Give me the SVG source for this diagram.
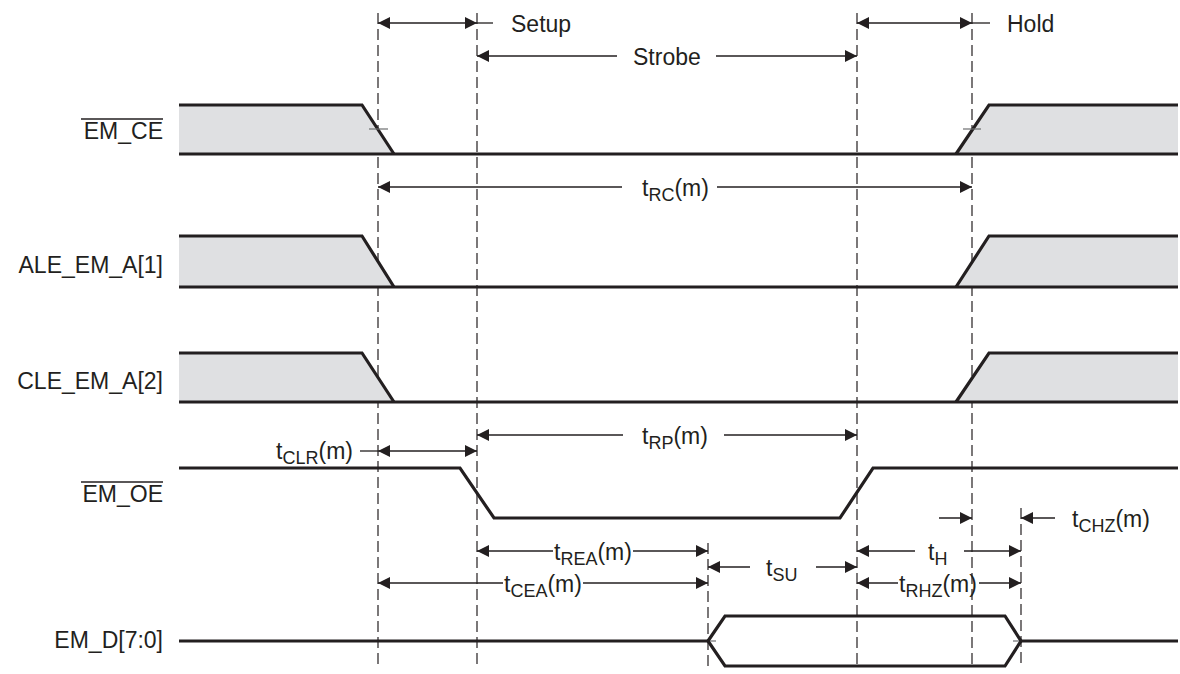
<svg xmlns="http://www.w3.org/2000/svg" width="1180" height="674" viewBox="0 0 1180 674">
<style>
.wave{fill:none;stroke:#231f20;stroke-width:3.2;stroke-linejoin:miter;stroke-linecap:butt}
.fill{fill:#dfe0e2;stroke:none}
.dash{stroke:#231f20;stroke-width:1.2;stroke-dasharray:11 5;fill:none}
.dim{stroke:#231f20;stroke-width:1.3;fill:none}
.tick{stroke:#6d6e71;stroke-width:1.2}
.lbl{font-family:"Liberation Sans",Arial,sans-serif;font-size:23px;fill:#231f20}
.sub{font-size:18px}
.ov{stroke:#231f20;stroke-width:1.6}
</style>
<defs>
<marker id="ah" markerUnits="userSpaceOnUse" markerWidth="12" markerHeight="12" refX="12" refY="6" orient="auto-start-reverse" viewBox="0 0 12 12">
<path d="M0,0 L12,6 L0,12 Z" fill="#231f20"/>
</marker>
</defs>
<rect width="1180" height="674" fill="#ffffff"/>

<g id="reference-lines">
<line class="dash" x1="378" y1="13" x2="378" y2="668"/>
<line class="dash" x1="477" y1="13" x2="477" y2="668"/>
<line class="dash" x1="857" y1="13" x2="857" y2="668"/>
<line class="dash" x1="972" y1="13" x2="972" y2="668"/>
<line class="dash" x1="708" y1="543" x2="708" y2="668"/>
<line class="dash" x1="1021" y1="508" x2="1021" y2="668"/>
</g>

<g id="sig-em-ce">
<polygon class="fill" points="179,105 362,105 394,154 179,154"/>
<polygon class="fill" points="956,154 989,105 1178,105 1178,154"/>
<polyline class="wave" points="179,105 362,105 394,154"/>
<line class="wave" x1="179" y1="154" x2="1178" y2="154"/>
<polyline class="wave" points="956,154 989,105 1178,105"/>
<line class="tick" x1="369" y1="129" x2="388" y2="129"/>
<line class="tick" x1="963" y1="129" x2="981" y2="129"/>
<text class="lbl" x="163" y="139" text-anchor="end">EM_CE</text>
<line class="ov" x1="81" y1="119" x2="163" y2="119"/>
</g>

<g id="sig-ale">
<polygon class="fill" points="179,236 362,236 394,287 179,287"/>
<polygon class="fill" points="956,287 989,236 1178,236 1178,287"/>
<polyline class="wave" points="179,236 362,236 394,287"/>
<line class="wave" x1="179" y1="287" x2="1178" y2="287"/>
<polyline class="wave" points="956,287 989,236 1178,236"/>
<text class="lbl" x="163" y="273" text-anchor="end">ALE_EM_A[1]</text>
</g>

<g id="sig-cle">
<polygon class="fill" points="179,353 362,353 394,402 179,402"/>
<polygon class="fill" points="956,402 989,353 1178,353 1178,402"/>
<polyline class="wave" points="179,353 362,353 394,402"/>
<line class="wave" x1="179" y1="402" x2="1178" y2="402"/>
<polyline class="wave" points="956,402 989,353 1178,353"/>
<text class="lbl" x="163" y="389" text-anchor="end">CLE_EM_A[2]</text>
</g>

<g id="sig-em-oe">
<polyline class="wave" points="179,468 460,468 494,518 840,518 873,468 1178,468"/>
<text class="lbl" x="163" y="502" text-anchor="end">EM_OE</text>
<line class="ov" x1="81" y1="482" x2="163" y2="482"/>
</g>

<g id="sig-em-d">
<line class="wave" x1="179" y1="641" x2="708" y2="641"/>
<polygon class="wave" points="708,641 725,616 1005,616 1021,641 1005,666 725,666"/>
<line class="wave" x1="1021" y1="641" x2="1178" y2="641"/>
<line class="tick" x1="710" y1="641" x2="716" y2="641"/>
<line class="tick" x1="1013" y1="641" x2="1019" y2="641"/>
<text class="lbl" x="163" y="648" text-anchor="end">EM_D[7:0]</text>
</g>

<g id="connectors">
<line class="dim" x1="378" y1="23" x2="477" y2="23" marker-start="url(#ah)" marker-end="url(#ah)"/>
<line class="dim" x1="477" y1="23" x2="493" y2="23"/>
<text class="lbl" x="511" y="32">Setup</text>
<line class="dim" x1="477" y1="56" x2="617" y2="56" marker-start="url(#ah)"/>
<line class="dim" x1="716" y1="56" x2="857" y2="56" marker-end="url(#ah)"/>
<text class="lbl" x="633" y="65">Strobe</text>
<line class="dim" x1="857" y1="23" x2="972" y2="23" marker-start="url(#ah)" marker-end="url(#ah)"/>
<line class="dim" x1="972" y1="23" x2="990" y2="23"/>
<text class="lbl" x="1007" y="32">Hold</text>
<line class="dim" x1="378" y1="187" x2="622" y2="187" marker-start="url(#ah)"/>
<line class="dim" x1="717" y1="187" x2="972" y2="187" marker-end="url(#ah)"/>
<text class="lbl" x="642" y="196">t<tspan class="sub" dy="5">RC</tspan><tspan dy="-5">(m)</tspan></text>
<line class="dim" x1="360" y1="451" x2="378" y2="451"/>
<line class="dim" x1="378" y1="451" x2="477" y2="451" marker-start="url(#ah)" marker-end="url(#ah)"/>
<text class="lbl" x="353" y="459" text-anchor="end">t<tspan class="sub" dy="5">CLR</tspan><tspan dy="-5">(m)</tspan></text>
<line class="dim" x1="477" y1="435" x2="623" y2="435" marker-start="url(#ah)"/>
<line class="dim" x1="724" y1="435" x2="857" y2="435" marker-end="url(#ah)"/>
<text class="lbl" x="642" y="444">t<tspan class="sub" dy="5">RP</tspan><tspan dy="-5">(m)</tspan></text>
<line class="dim" x1="477" y1="551" x2="553" y2="551" marker-start="url(#ah)"/>
<line class="dim" x1="633" y1="551" x2="708" y2="551" marker-end="url(#ah)"/>
<text class="lbl" x="554" y="560">t<tspan class="sub" dy="5">REA</tspan><tspan dy="-5">(m)</tspan></text>
<line class="dim" x1="378" y1="583" x2="503" y2="583" marker-start="url(#ah)"/>
<line class="dim" x1="583" y1="583" x2="708" y2="583" marker-end="url(#ah)"/>
<text class="lbl" x="504" y="592">t<tspan class="sub" dy="5">CEA</tspan><tspan dy="-5">(m)</tspan></text>
<line class="dim" x1="708" y1="567" x2="750" y2="567" marker-start="url(#ah)"/>
<line class="dim" x1="816" y1="567" x2="857" y2="567" marker-end="url(#ah)"/>
<text class="lbl" x="766" y="576">t<tspan class="sub" dy="5">SU</tspan></text>
<line class="dim" x1="857" y1="551" x2="915" y2="551" marker-start="url(#ah)"/>
<line class="dim" x1="964" y1="551" x2="1021" y2="551" marker-end="url(#ah)"/>
<text class="lbl" x="928" y="560">t<tspan class="sub" dy="5">H</tspan></text>
<line class="dim" x1="857" y1="583" x2="898" y2="583" marker-start="url(#ah)"/>
<line class="dim" x1="979" y1="583" x2="1021" y2="583" marker-end="url(#ah)"/>
<text class="lbl" x="899" y="592">t<tspan class="sub" dy="5">RHZ</tspan><tspan dy="-5">(m)</tspan></text>
<line class="dim" x1="939" y1="518" x2="972" y2="518" marker-end="url(#ah)"/>
<line class="dim" x1="1021" y1="518" x2="1055" y2="518" marker-start="url(#ah)"/>
<text class="lbl" x="1072" y="527">t<tspan class="sub" dy="5">CHZ</tspan><tspan dy="-5">(m)</tspan></text>
</g>
</svg>
